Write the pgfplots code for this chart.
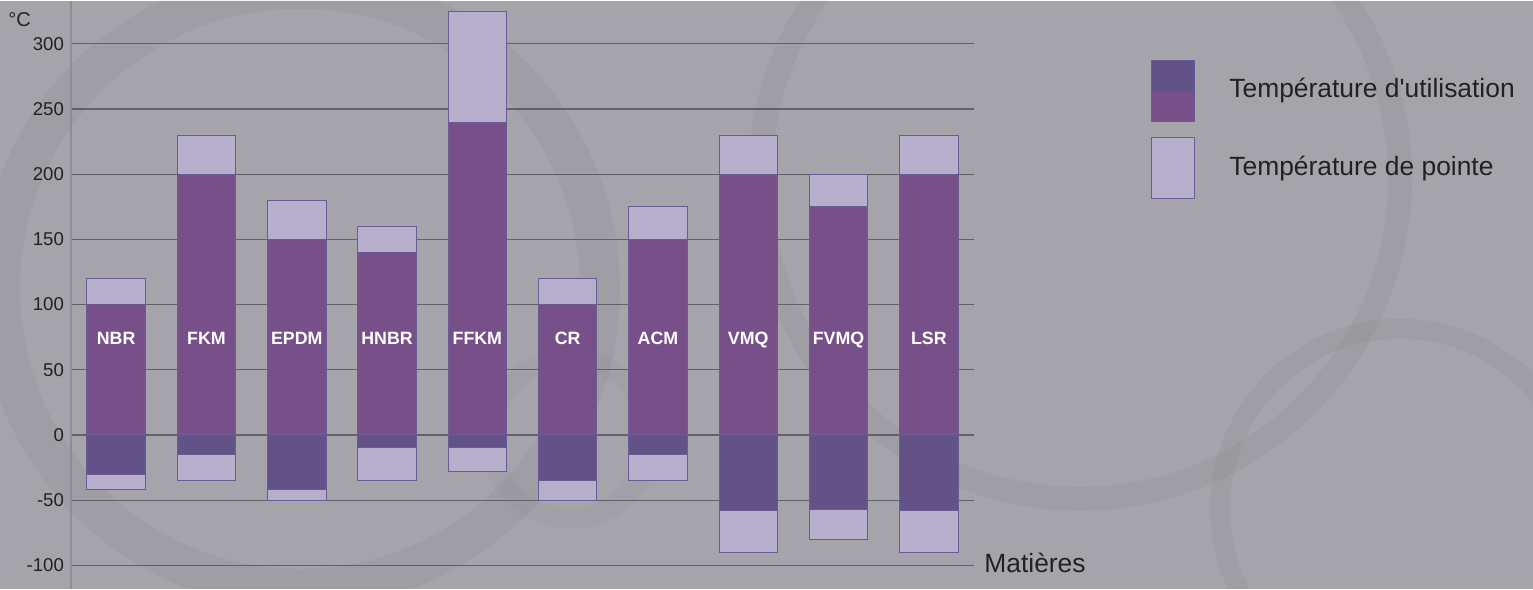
\documentclass[border=0pt]{standalone}
\usepackage{pgfplots}
\usepackage{pgfplotstable}
\pgfplotsset{compat=1.18}
\usepackage{fontspec}
\setmainfont{Liberation Sans}[Ligatures=TeXOff]
\definecolor{bg}{HTML}{A5A4AA}
\definecolor{usepos}{HTML}{775089}
\definecolor{useneg}{HTML}{625287}
\definecolor{peak}{HTML}{B6AECB}
\definecolor{edge}{HTML}{6A5A96}
\definecolor{gridc}{HTML}{626167}
\definecolor{axisc}{HTML}{8E8D93}
\definecolor{txt}{HTML}{222222}

\pgfplotstableread{
x usetop usebot peaktop peakbot laby label
0 100 -30 120 -42 69 NBR
1 200 -15 230 -35 69 FKM
2 150 -42 180 -50 69 EPDM
3 140 -10 160 -35 69 HNBR
4 240 -10 325 -28 69 FFKM
5 100 -35 120 -50 69 CR
6 150 -15 175 -35 69 ACM
7 200 -58 230 -90 69 VMQ
8 175 -57 200 -80 69 FVMQ
9 200 -58 230 -90 69 LSR
}\datatable

\begin{document}
\begin{tikzpicture}[x=1pt,y=1pt]
\fill[bg] (0,0) rectangle (766.5,294);
% faint decorative rings
\begin{scope}
\clip (0,0) rectangle (766.5,294);
\draw[black, opacity=0.03, line width=20pt] (150,150) circle (150);
\draw[black, opacity=0.03, line width=12pt] (540,205) circle (160);
\draw[black, opacity=0.03, line width=10pt] (700,40) circle (90);
\draw[black, opacity=0.025, line width=10pt] (285,75) circle (40);
\end{scope}
\begin{axis}[
  at={(35.5pt,0pt)}, anchor=south west,
  width=451.5pt, height=294pt, scale only axis,
  xmin=-0.5, xmax=9.5, ymin=-118, ymax=333,
  axis x line=none,
  axis y line=left,
  y axis line style={-, draw=axisc, line width=0.8pt},
  ytick={-100,-50,0,50,100,150,200,250,300},
  major tick length=0pt,
  ymajorgrids,
  grid style={draw=gridc, line width=0.6pt},
  /pgf/number format/assume math mode=true,
  yticklabel style={font=\fontsize{9.3}{11}\selectfont, text=txt},
  clip=false,
]
\addplot[ybar, bar width=29.25pt, bar shift=0pt, fill=peak, draw=edge, line width=0.5pt] table[x=x, y=peaktop] {\datatable};
\addplot[ybar, bar width=29.25pt, bar shift=0pt, fill=usepos, draw=edge, line width=0.5pt] table[x=x, y=usetop] {\datatable};
\addplot[ybar, bar width=29.25pt, bar shift=0pt, fill=peak, draw=edge, line width=0.5pt] table[x=x, y=peakbot] {\datatable};
\addplot[ybar, bar width=29.25pt, bar shift=0pt, fill=useneg, draw=edge, line width=0.5pt] table[x=x, y=usebot] {\datatable};
\addplot[draw=none, mark=none, nodes near coords, point meta=explicit symbolic,
  nodes near coords style={anchor=base, yshift=0pt, inner sep=0pt, text=white, font=\fontsize{8.9}{10}\selectfont\bfseries}]
  table[x=x, y=laby, meta=label] {\datatable};
\end{axis}
% axis captions
\node[anchor=base west, inner sep=0, text=txt, font=\fontsize{10}{12}\selectfont] at (4,281) {°C};
\node[anchor=base west, inner sep=0, text=txt, font=\fontsize{13.2}{15}\selectfont] at (492,8.2) {Matières};
% legend
\fill[useneg] (575.5,248.5) rectangle (597,264.35);
\fill[usepos] (575.5,233.65) rectangle (597,248.5);
\draw[edge, line width=0.5pt] (575.5,233.65) rectangle (597,264.35);
\filldraw[fill=peak, draw=edge, line width=0.5pt] (575.5,195.15) rectangle (597,225.65);
\node[anchor=base west, inner sep=0, text=txt, font=\fontsize{13.2}{15}\selectfont] at (614.5,245.65) {Température d'utilisation};
\node[anchor=base west, inner sep=0, text=txt, font=\fontsize{13.2}{15}\selectfont] at (614.5,206.5) {Température de pointe};
\end{tikzpicture}
\end{document}
